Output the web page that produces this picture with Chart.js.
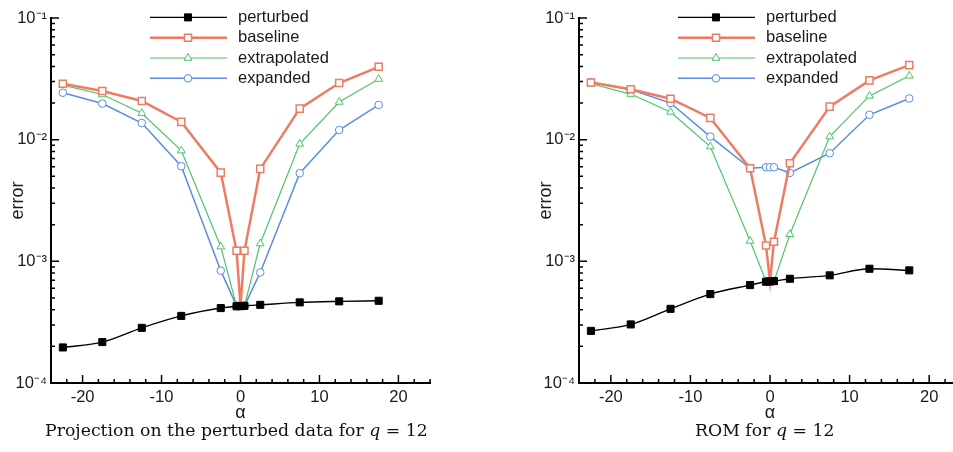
<!DOCTYPE html>
<html>
<head>
<meta charset="utf-8">
<script src="https://cdn.jsdelivr.net/npm/chart.js@4.4.0/dist/chart.umd.min.js"></script>
<style>
  html, body { margin: 0; padding: 0; background: #fff; overflow: hidden; }
  body { width: 953px; height: 452px; position: relative; }
  .plot { position: absolute; top: 0; }
  #leftCanvas { left: 0; }
  #rightCanvas { left: 528px; }
  .caption { position: absolute; top: 420px; font-family: 'DejaVu Serif', 'Liberation Serif', serif; font-size: 17.3px; color: #111; white-space: nowrap; }
</style>
</head>
<body>
<canvas id="leftCanvas" class="plot" width="470" height="424"></canvas>
<canvas id="rightCanvas" class="plot" width="440" height="424"></canvas>
<div class="caption" style="left:45px;">Projection on the perturbed data for <i>q</i> = 12</div>
<div class="caption" style="left:695px;">ROM for <i>q</i> = 12</div>
<script>
// angle of attack values
const alpha = [-22.5, -17.5, -12.5, -7.5, -2.5, -0.5, 0, 0.5, 2.5, 7.5, 12.5, 17.5];

// left panel: projection on the perturbed data
const projPerturbed = [1.96e-4, 2.17e-4, 2.84e-4, 3.56e-4, 4.13e-4, 4.27e-4, 4.29e-4, 4.31e-4, 4.39e-4, 4.60e-4, 4.69e-4, 4.74e-4];
const projBaseline = [2.88e-2, 2.51e-2, 2.08e-2, 1.40e-2, 5.36e-3, 1.22e-3, 4.29e-4, 1.22e-3, 5.75e-3, 1.80e-2, 2.92e-2, 3.97e-2];
const projExtrapolated = [2.81e-2, 2.35e-2, 1.65e-2, 8.13e-3, 1.32e-3, 4.30e-4, 4.29e-4, 4.30e-4, 1.40e-3, 9.23e-3, 2.04e-2, 3.15e-2];
const projExpanded = [2.43e-2, 1.98e-2, 1.37e-2, 6.05e-3, 8.38e-4, 4.30e-4, 4.29e-4, 4.30e-4, 8.10e-4, 5.30e-3, 1.20e-2, 1.93e-2];

// right panel: ROM
const romPerturbed = [2.68e-4, 3.03e-4, 4.07e-4, 5.38e-4, 6.38e-4, 6.80e-4, 6.84e-4, 6.88e-4, 7.19e-4, 7.67e-4, 8.69e-4, 8.43e-4];
const romBaseline = [2.95e-2, 2.60e-2, 2.17e-2, 1.51e-2, 5.82e-3, 1.35e-3, 6.84e-4, 1.45e-3, 6.41e-3, 1.87e-2, 3.07e-2, 4.10e-2];
const romExtrapolated = [2.88e-2, 2.37e-2, 1.69e-2, 8.77e-3, 1.47e-3, 6.85e-4, 6.84e-4, 6.85e-4, 1.67e-3, 1.06e-2, 2.29e-2, 3.35e-2];
const romExpanded = [2.97e-2, 2.58e-2, 2.00e-2, 1.06e-2, 5.82e-3, 5.93e-3, 5.93e-3, 5.93e-3, 5.33e-3, 7.74e-3, 1.60e-2, 2.18e-2];

const seriesNames = ['perturbed', 'baseline', 'extrapolated', 'expanded'];

// ticks
const xTickLabels = [-20, -10, 0, 10, 20];
const yMajorTicks = [1e-4, 1e-3, 1e-2, 1e-1];
const yTickLabels = ['10\u207B\u2074', '10\u207B\u00B3', '10\u207B\u00B2', '10\u207B\u00B9'];

const axisFont = { family: "'Liberation Sans', Arial, sans-serif", size: 16.5 };
const textColor = '#1a1a1a';

function majorIndex(v) {
    return yMajorTicks.findIndex(m => Math.abs(v - m) / m < 1e-6);
}

// minor ticks 2..9 inside each decade
const yTickValues = [];
yMajorTicks.forEach((m, i) => {
    yTickValues.push(m);
    if (i < yMajorTicks.length - 1) {
        for (let k = 2; k <= 9; k++) yTickValues.push(k * m);
    }
});

function drawMarker(ctx, style, r, x, y) {
    ctx.beginPath();
    if (style === 'rect') {
        const s = r * Math.SQRT1_2;
        ctx.rect(x - s, y - s, 2 * s, 2 * s);
    } else if (style === 'triangle') {
        ctx.moveTo(x, y - r);
        ctx.lineTo(x + r * 0.866, y + r * 0.5);
        ctx.lineTo(x - r * 0.866, y + r * 0.5);
        ctx.closePath();
    } else {
        ctx.arc(x, y, r, 0, Math.PI * 2);
    }
    ctx.fill();
    ctx.stroke();
}

// inward tick marks
const tickMarks = {
    id: 'tickMarks',
    afterDraw(chart) {
        const ctx = chart.ctx;
        const xs = chart.scales.x;
        const ys = chart.scales.y;
        ctx.save();
        ctx.strokeStyle = '#000';
        ctx.lineWidth = 1.5;
        ctx.beginPath();
        xs.ticks.forEach(t => {
            const px = xs.getPixelForValue(t.value);
            const len = xTickLabels.includes(t.value) ? 8 : 4;
            ctx.moveTo(px, xs.top);
            ctx.lineTo(px, xs.top - len);
        });
        ys.ticks.forEach(t => {
            const py = ys.getPixelForValue(t.value);
            const len = majorIndex(t.value) >= 0 ? 8 : 4;
            ctx.moveTo(ys.right, py);
            ctx.lineTo(ys.right + len, py);
        });
        ctx.stroke();
        ctx.restore();
    }
};

// legend with line sample and marker
const lineLegend = {
    id: 'lineLegend',
    afterDatasetsDraw(chart) {
        const ctx = chart.ctx;
        const x0 = chart.chartArea.left + 99;
        ctx.save();
        chart.data.datasets.forEach((ds, i) => {
            const y = chart.chartArea.top - 0.6 + i * 20.3;
            ctx.strokeStyle = ds.borderColor;
            ctx.lineWidth = ds.borderWidth;
            ctx.beginPath();
            ctx.moveTo(x0, y);
            ctx.lineTo(x0 + 77, y);
            ctx.stroke();
            ctx.fillStyle = ds.pointBackgroundColor;
            ctx.strokeStyle = ds.pointBorderColor;
            ctx.lineWidth = ds.pointBorderWidth;
            drawMarker(ctx, ds.pointStyle, ds.pointRadius, x0 + 38, y);
            ctx.fillStyle = textColor;
            ctx.font = "16.5px 'Liberation Sans', Arial, sans-serif";
            ctx.textBaseline = 'middle';
            ctx.fillText(ds.label, x0 + 88, y);
        });
        ctx.restore();
    }
};

function makeDatasets(perturbed, baseline, extrapolated, expanded) {
    const pts = vals => alpha.map((a, i) => ({ x: a, y: vals[i] }));
    return [{
        label: seriesNames[0],
        data: pts(perturbed),
        borderColor: '#000000',
        borderWidth: 1.4,
        cubicInterpolationMode: 'monotone',
        pointStyle: 'rect',
        pointRadius: 5,
        pointBackgroundColor: '#000000',
        pointBorderColor: '#000000',
        pointBorderWidth: 1
    }, {
        label: seriesNames[1],
        data: pts(baseline),
        borderColor: '#ee7b63',
        borderWidth: 2.5,
        pointStyle: 'rect',
        pointRadius: 5,
        pointBackgroundColor: '#ffffff',
        pointBorderColor: '#ee7b63',
        pointBorderWidth: 1.5
    }, {
        label: seriesNames[2],
        data: pts(extrapolated),
        borderColor: '#4fc46a',
        borderWidth: 1.2,
        pointStyle: 'triangle',
        pointRadius: 4.5,
        pointBackgroundColor: '#ffffff',
        pointBorderColor: '#4fc46a',
        pointBorderWidth: 1
    }, {
        label: seriesNames[3],
        data: pts(expanded),
        borderColor: '#5a8de0',
        borderWidth: 1.5,
        pointStyle: 'circle',
        pointRadius: 3.8,
        pointBackgroundColor: '#ffffff',
        pointBorderColor: '#5a8de0',
        pointBorderWidth: 1
    }];
}

function makeChart(canvasId, datasets, padRight) {
    const ctx = document.getElementById(canvasId).getContext('2d');
    return new Chart(ctx, {
        type: 'line',
        data: { datasets: datasets },
        plugins: [tickMarks, lineLegend],
        options: {
            responsive: false,
            animation: false,
            layout: { padding: { top: 18, right: padRight, bottom: 0, left: 0 } },
            plugins: {
                legend: { display: false },
                tooltip: { enabled: false }
            },
            scales: {
                x: {
                    type: 'linear',
                    min: -24,
                    max: 24,
                    afterFit: s => { s.height = 41; },
                    grid: { display: false, drawTicks: false },
                    border: { display: true, color: '#000', width: 2 },
                    ticks: {
                        stepSize: 2,
                        autoSkip: false,
                        maxRotation: 0,
                        padding: 5,
                        color: textColor,
                        font: axisFont,
                        callback: v => xTickLabels.includes(v) ? String(v) : ''
                    },
                    title: {
                        display: true,
                        text: '\u03B1',
                        color: textColor,
                        font: { family: axisFont.family, size: 18 },
                        padding: { top: 0, bottom: 0 }
                    }
                },
                y: {
                    type: 'logarithmic',
                    min: 1e-4,
                    max: 1e-1,
                    afterFit: s => { s.width = 51; },
                    afterBuildTicks: s => { s.ticks = yTickValues.map(v => ({ value: v })); },
                    grid: { display: false, drawTicks: false },
                    border: { display: true, color: '#000', width: 2 },
                    ticks: {
                        autoSkip: false,
                        padding: 4,
                        color: textColor,
                        font: axisFont,
                        callback: v => {
                            const i = majorIndex(v);
                            return i >= 0 ? yTickLabels[i] : '';
                        }
                    },
                    title: {
                        display: true,
                        text: 'error',
                        color: textColor,
                        font: { family: axisFont.family, size: 18 },
                        padding: { top: 7, bottom: 0 }
                    }
                }
            }
        }
    });
}

const charts = {};
charts.left = makeChart('leftCanvas', makeDatasets(projPerturbed, projBaseline, projExtrapolated, projExpanded), 40);
charts.right = makeChart('rightCanvas', makeDatasets(romPerturbed, romBaseline, romExtrapolated, romExpanded), 7);
</script>
</body>
</html>
